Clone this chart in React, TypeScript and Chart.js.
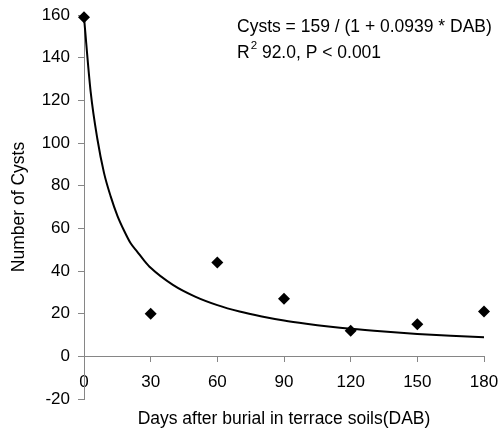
import React, { useEffect, useRef } from 'react';
import { Chart, registerables } from 'chart.js';

Chart.register(...registerables);

const daysObserved = [0, 30, 60, 90, 120, 150, 180];
const cystsObserved = [159, 20, 44, 27, 12, 15, 21];

const fitDays = [0, 3, 6, 9, 12, 15, 18, 21, 24, 27, 30, 40, 50, 60, 70, 80, 90, 100, 110, 120, 135, 150, 165, 180];
const fitCysts = [159, 124, 102, 86, 75, 66, 59, 53, 49, 45, 41.5, 33.5, 28, 24, 21, 18.7, 16.8, 15.3, 14, 12.9, 11.6, 10.5, 9.6, 8.9];

const xMin = 0;
const xMax = 180;
const xStep = 30;
const yMin = -20;
const yMax = 160;
const yStep = 20;

const xTitle = 'Days after burial in terrace soils(DAB)';
const yTitle = 'Number of Cysts';
const equationText = 'Cysts = 159 / (1 + 0.0939 * DAB)';
const r2Main = 'R';
const r2Sup = '2';
const r2Rest = ' 92.0, P < 0.001';

const FONT = '"Liberation Sans", Arial, sans-serif';
const AXIS_GRAY = '#868686';

const annotationPlugin = {
  id: 'annotationText',
  afterDraw(chart: any) {
    const ctx = chart.ctx;
    ctx.save();
    ctx.fillStyle = '#000';
    ctx.textBaseline = 'middle';
    ctx.textAlign = 'left';
    ctx.font = `17.5px ${FONT}`;
    const x0 = 237;
    ctx.fillText(equationText, x0, 27);
    ctx.fillText(r2Main, x0, 53);
    const wR = ctx.measureText(r2Main).width;
    ctx.font = `11.5px ${FONT}`;
    ctx.fillText(r2Sup, x0 + wR + 1, 46);
    const wS = ctx.measureText(r2Sup).width;
    ctx.font = `17.5px ${FONT}`;
    ctx.fillText(r2Rest, x0 + wR + 1 + wS, 53);
    ctx.restore();
  },
};

const zeroPadding = (scale: any) => {
  scale.paddingLeft = 0;
  scale.paddingRight = 0;
  scale.paddingTop = 0;
  scale.paddingBottom = 0;
};

export default function App() {
  const canvasRef = useRef<HTMLCanvasElement | null>(null);

  useEffect(() => {
    if (!canvasRef.current) return;
    Chart.defaults.font.family = FONT;
    Chart.defaults.color = '#000';
    const chart = new Chart(canvasRef.current, {
      type: 'scatter',
      data: {
        datasets: [
          {
            type: 'line',
            label: 'fit',
            data: fitDays.map((d, i) => ({ x: d, y: fitCysts[i] })),
            borderColor: '#000',
            borderWidth: 2,
            pointRadius: 0,
            fill: false,
            tension: 0,
            cubicInterpolationMode: 'monotone',
            clip: false,
          } as any,
          {
            type: 'scatter',
            label: 'observed',
            data: daysObserved.map((d, i) => ({ x: d, y: cystsObserved[i] })),
            backgroundColor: '#000',
            borderColor: '#000',
            pointStyle: 'rectRot',
            pointRadius: 6,
            borderWidth: 0,
            clip: false,
          } as any,
        ],
      },
      options: {
        responsive: false,
        animation: false,
        layout: { padding: { top: 15, right: 16, left: 0, bottom: 35 } },
        plugins: {
          legend: { display: false },
          tooltip: { enabled: false },
        },
        scales: {
          x: {
            type: 'linear',
            position: { y: 0 } as any,
            min: xMin,
            max: xMax,
            ticks: { stepSize: xStep, padding: 11, font: { size: 17 }, color: '#000' },
            grid: { drawOnChartArea: false, drawTicks: true, tickLength: 5, color: AXIS_GRAY },
            border: { display: true, color: AXIS_GRAY, width: 1 },
            title: {
              display: true,
              text: xTitle,
              font: { size: 17.5 },
              color: '#000',
              padding: { top: 0, bottom: -38 },
            },
            afterFit: (scale: any) => {
              scale.height = 35;
              zeroPadding(scale);
            },
          },
          y: {
            type: 'linear',
            position: 'left',
            min: yMin,
            max: yMax,
            ticks: { stepSize: yStep, padding: 8, font: { size: 17 }, color: '#000' },
            grid: { drawOnChartArea: false, drawTicks: true, tickLength: 6, color: AXIS_GRAY },
            border: { display: true, color: AXIS_GRAY, width: 1 },
            title: {
              display: true,
              text: yTitle,
              font: { size: 17.5 },
              color: '#000',
              padding: { top: 9, bottom: 0 },
            },
            afterFit: (scale: any) => {
              scale.width = 84;
              zeroPadding(scale);
            },
          },
        },
      },
      plugins: [annotationPlugin],
    });
    return () => chart.destroy();
  }, []);

  return (
    <div style={{ position: 'absolute', left: 0, top: 0, width: 500, height: 434, background: '#fff' }}>
      <canvas ref={canvasRef} width={500} height={434} style={{ display: 'block' }} />
    </div>
  );
}
